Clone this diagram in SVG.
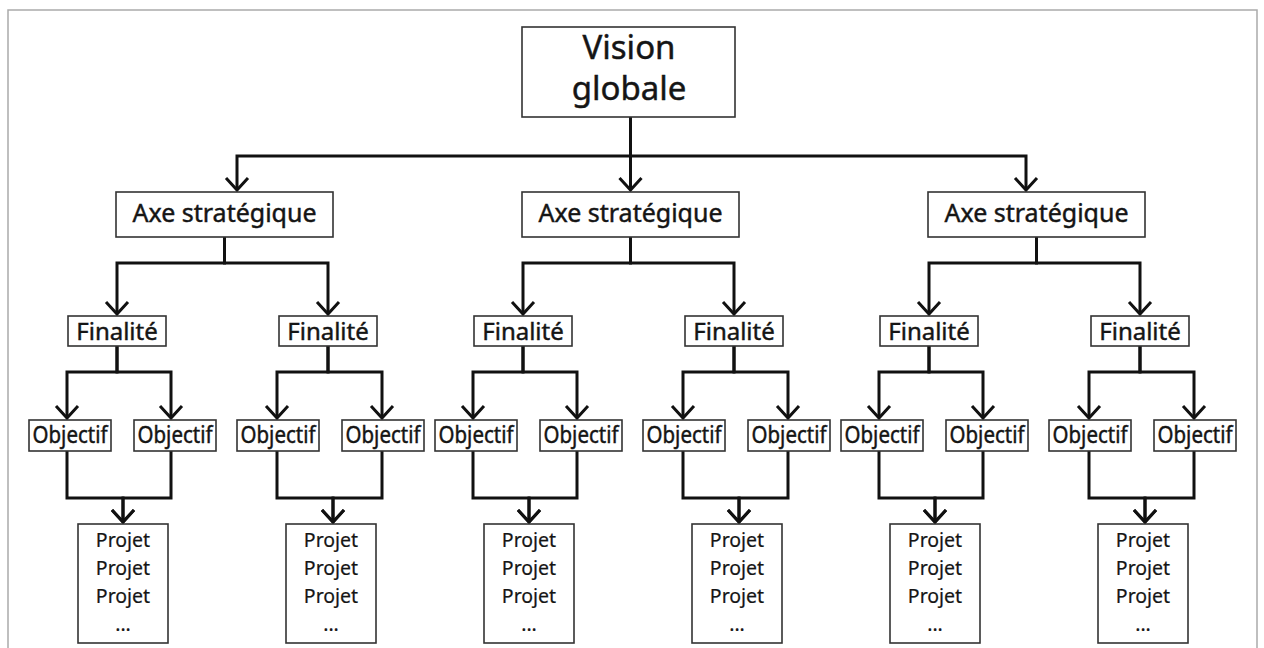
<svg xmlns="http://www.w3.org/2000/svg" width="1264" height="648" viewBox="0 0 1264 648">
<style>
.box{fill:#fff;stroke:#333;stroke-width:1.6}
.t{font-family:"Noto Sans","Open Sans",sans-serif;fill:#151515;stroke:#151515;stroke-width:0.45;text-anchor:middle}
.tv{font-size:33px}
.ta{font-size:25px}
.tf{font-size:24px}
.to{font-size:23px}
.tp{font-size:19.5px;stroke-width:0.2}
.c{fill:none;stroke:#111;stroke-width:3;stroke-linejoin:miter;marker-end:url(#arr)}
</style>
<defs>
<marker id="arr" markerUnits="userSpaceOnUse" viewBox="-16 -16 32 32" markerWidth="32" markerHeight="32" refX="0" refY="0" orient="auto">
<path d="M-12,-11 L0,0 L-12,11" fill="none" stroke="#111" stroke-width="3"/>
</marker>
</defs>
<rect width="1264" height="648" fill="#fff"/>
<path d="M8,648 V10 H1257 V648" fill="none" stroke="#aaa" stroke-width="1.5"/>

<g id="connectors">
<path class="c" d="M630.5,117 V156 H237 V190"/>
<path class="c" d="M630.5,117 V190"/>
<path class="c" d="M630.5,117 V156 H1026 V190"/>

<path class="c" d="M224.5,237 V263 H117 V314"/>
<path class="c" d="M224.5,237 V263 H328 V314"/>
<path class="c" d="M117,346 V372 H67 V418"/>
<path class="c" d="M117,346 V372 H171 V418"/>
<path class="c" d="M328,346 V372 H277 V418"/>
<path class="c" d="M328,346 V372 H382 V418"/>
<path class="c" d="M67,451 V498 H123 V522"/>
<path class="c" d="M171,451 V498 H123 V522"/>
<path class="c" d="M277,451 V498 H333 V522"/>
<path class="c" d="M382,451 V498 H333 V522"/>

<path class="c" d="M630.5,237 V263 H523 V314"/>
<path class="c" d="M630.5,237 V263 H734 V314"/>
<path class="c" d="M523,346 V372 H473 V418"/>
<path class="c" d="M523,346 V372 H577 V418"/>
<path class="c" d="M734,346 V372 H683 V418"/>
<path class="c" d="M734,346 V372 H788 V418"/>
<path class="c" d="M473,451 V498 H529 V522"/>
<path class="c" d="M577,451 V498 H529 V522"/>
<path class="c" d="M683,451 V498 H739 V522"/>
<path class="c" d="M788,451 V498 H739 V522"/>

<path class="c" d="M1036.5,237 V263 H929 V314"/>
<path class="c" d="M1036.5,237 V263 H1140 V314"/>
<path class="c" d="M929,346 V372 H879 V418"/>
<path class="c" d="M929,346 V372 H983 V418"/>
<path class="c" d="M1140,346 V372 H1089 V418"/>
<path class="c" d="M1140,346 V372 H1194 V418"/>
<path class="c" d="M879,451 V498 H935 V522"/>
<path class="c" d="M983,451 V498 H935 V522"/>
<path class="c" d="M1089,451 V498 H1145 V522"/>
<path class="c" d="M1194,451 V498 H1145 V522"/>
</g>

<g id="vision"><rect class="box" x="522" y="27" width="213" height="90"/><text class="t tv" x="629" y="59">Vision</text><text class="t tv" x="629" y="100">globale</text></g>

<g id="axe1"><rect class="box" x="116" y="192" width="217" height="45"/><text class="t ta" x="224.5" y="222">Axe stratégique</text></g>
<g id="axe2"><rect class="box" x="522" y="192" width="217" height="45"/><text class="t ta" x="630.5" y="222">Axe stratégique</text></g>
<g id="axe3"><rect class="box" x="928" y="192" width="217" height="45"/><text class="t ta" x="1036.5" y="222">Axe stratégique</text></g>

<g id="fin1"><rect class="box" x="68" y="316" width="98" height="30"/><text class="t tf" x="117" y="339.5">Finalité</text></g>
<g id="fin2"><rect class="box" x="279" y="316" width="98" height="30"/><text class="t tf" x="328" y="339.5">Finalité</text></g>
<g id="fin3"><rect class="box" x="474" y="316" width="98" height="30"/><text class="t tf" x="523" y="339.5">Finalité</text></g>
<g id="fin4"><rect class="box" x="685" y="316" width="98" height="30"/><text class="t tf" x="734" y="339.5">Finalité</text></g>
<g id="fin5"><rect class="box" x="880" y="316" width="98" height="30"/><text class="t tf" x="929" y="339.5">Finalité</text></g>
<g id="fin6"><rect class="box" x="1091" y="316" width="98" height="30"/><text class="t tf" x="1140" y="339.5">Finalité</text></g>

<g id="obj1"><rect class="box" x="29" y="420" width="82" height="31"/><text class="t to" x="70" y="443" textLength="75" lengthAdjust="spacingAndGlyphs">Objectif</text></g>
<g id="obj2"><rect class="box" x="134" y="420" width="82" height="31"/><text class="t to" x="175" y="443" textLength="75" lengthAdjust="spacingAndGlyphs">Objectif</text></g>
<g id="obj3"><rect class="box" x="237" y="420" width="82" height="31"/><text class="t to" x="278" y="443" textLength="75" lengthAdjust="spacingAndGlyphs">Objectif</text></g>
<g id="obj4"><rect class="box" x="342" y="420" width="82" height="31"/><text class="t to" x="383" y="443" textLength="75" lengthAdjust="spacingAndGlyphs">Objectif</text></g>
<g id="obj5"><rect class="box" x="435" y="420" width="82" height="31"/><text class="t to" x="476" y="443" textLength="75" lengthAdjust="spacingAndGlyphs">Objectif</text></g>
<g id="obj6"><rect class="box" x="540" y="420" width="82" height="31"/><text class="t to" x="581" y="443" textLength="75" lengthAdjust="spacingAndGlyphs">Objectif</text></g>
<g id="obj7"><rect class="box" x="643" y="420" width="82" height="31"/><text class="t to" x="684" y="443" textLength="75" lengthAdjust="spacingAndGlyphs">Objectif</text></g>
<g id="obj8"><rect class="box" x="748" y="420" width="82" height="31"/><text class="t to" x="789" y="443" textLength="75" lengthAdjust="spacingAndGlyphs">Objectif</text></g>
<g id="obj9"><rect class="box" x="841" y="420" width="82" height="31"/><text class="t to" x="882" y="443" textLength="75" lengthAdjust="spacingAndGlyphs">Objectif</text></g>
<g id="obj10"><rect class="box" x="946" y="420" width="82" height="31"/><text class="t to" x="987" y="443" textLength="75" lengthAdjust="spacingAndGlyphs">Objectif</text></g>
<g id="obj11"><rect class="box" x="1049" y="420" width="82" height="31"/><text class="t to" x="1090" y="443" textLength="75" lengthAdjust="spacingAndGlyphs">Objectif</text></g>
<g id="obj12"><rect class="box" x="1154" y="420" width="82" height="31"/><text class="t to" x="1195" y="443" textLength="75" lengthAdjust="spacingAndGlyphs">Objectif</text></g>

<g id="proj1"><rect class="box" x="78" y="524" width="90" height="119"/><text class="t tp" x="123" y="547">Projet</text><text class="t tp" x="123" y="575">Projet</text><text class="t tp" x="123" y="603">Projet</text><text class="t tp" x="123" y="631">...</text></g>
<g id="proj2"><rect class="box" x="286" y="524" width="90" height="119"/><text class="t tp" x="331" y="547">Projet</text><text class="t tp" x="331" y="575">Projet</text><text class="t tp" x="331" y="603">Projet</text><text class="t tp" x="331" y="631">...</text></g>
<g id="proj3"><rect class="box" x="484" y="524" width="90" height="119"/><text class="t tp" x="529" y="547">Projet</text><text class="t tp" x="529" y="575">Projet</text><text class="t tp" x="529" y="603">Projet</text><text class="t tp" x="529" y="631">...</text></g>
<g id="proj4"><rect class="box" x="692" y="524" width="90" height="119"/><text class="t tp" x="737" y="547">Projet</text><text class="t tp" x="737" y="575">Projet</text><text class="t tp" x="737" y="603">Projet</text><text class="t tp" x="737" y="631">...</text></g>
<g id="proj5"><rect class="box" x="890" y="524" width="90" height="119"/><text class="t tp" x="935" y="547">Projet</text><text class="t tp" x="935" y="575">Projet</text><text class="t tp" x="935" y="603">Projet</text><text class="t tp" x="935" y="631">...</text></g>
<g id="proj6"><rect class="box" x="1098" y="524" width="90" height="119"/><text class="t tp" x="1143" y="547">Projet</text><text class="t tp" x="1143" y="575">Projet</text><text class="t tp" x="1143" y="603">Projet</text><text class="t tp" x="1143" y="631">...</text></g>
</svg>
